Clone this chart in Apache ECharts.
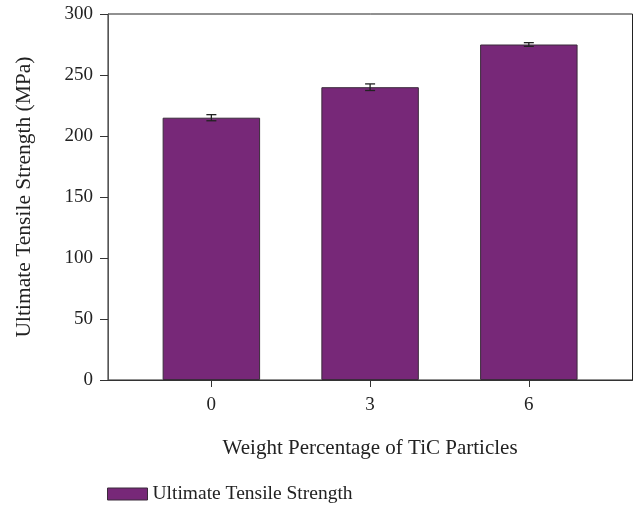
<!DOCTYPE html>
<html>
<head>
<meta charset="utf-8">
<script src="https://cdn.jsdelivr.net/npm/echarts@6/dist/echarts.min.js"></script>
<style>html,body{margin:0;padding:0;background:#fff;}#c{width:635px;height:506px;}</style>
</head>
<body>
<div id="c"></div>
<script>
const categories = ['0', '3', '6'];
const strength = [215, 240, 275];
const errors = [2.5, 2.7, 1.5];
const yTicks = [0, 50, 100, 150, 200, 250, 300];

const FONT = '"Liberation Serif", "DejaVu Serif", serif';
const chart = echarts.init(document.getElementById('c'));
const errData = categories.map((c, i) => [i, strength[i] - errors[i], strength[i] + errors[i]]);
const yMin = yTicks[0], yMax = yTicks[yTicks.length - 1];

chart.setOption({
  animation: false,
  textStyle: { fontFamily: FONT },
  grid: [
    { left: 108, right: 2.5, top: 14, bottom: 126, show: true, borderColor: '#222', borderWidth: 1, backgroundColor: 'transparent', outerBoundsMode: 'none', containLabel: false },
    { left: 132, right: 26.8, top: 14, bottom: 126, show: false, outerBoundsMode: 'none', containLabel: false }
  ],
  legend: {
    left: 102, top: 479,
    itemWidth: 40, itemHeight: 12,
    icon: 'rect',
    textStyle: { fontFamily: FONT, fontSize: 19.5, color: '#222' },
    itemStyle: { borderColor: '#3b2b3b', borderWidth: 1 },
    data: ['Ultimate Tensile Strength']
  },
  xAxis: [
    {
      gridIndex: 0,
      type: 'value', min: 0, max: 1,
      axisLine: { show: true, onZero: false, lineStyle: { color: '#333' } },
      axisTick: { show: false }, axisLabel: { show: false }, splitLine: { show: false }
    },
    {
      gridIndex: 1,
      type: 'category',
      data: categories,
      boundaryGap: true,
      name: 'Weight Percentage of TiC Particles',
      nameLocation: 'middle',
      nameGap: 58,
      nameTextStyle: { fontFamily: FONT, fontSize: 21, color: '#222' },
      axisLine: { show: false },
      axisTick: { show: true, alignWithLabel: true, length: 7, lineStyle: { color: '#333' } },
      axisLabel: { fontFamily: FONT, fontSize: 19, color: '#222', margin: 16 },
      splitLine: { show: false }
    }
  ],
  yAxis: [
    {
      gridIndex: 0,
      type: 'value',
      min: yMin, max: yMax, interval: 50,
      name: 'Ultimate Tensile Strength (MPa)',
      nameLocation: 'middle',
      nameGap: 73,
      nameTextStyle: { fontFamily: FONT, fontSize: 21.5, color: '#222' },
      axisLine: { show: true, lineStyle: { color: '#555' } },
      axisTick: { show: true, length: 8, lineStyle: { color: '#333' } },
      axisLabel: { fontFamily: FONT, fontSize: 19, color: '#222', margin: 15 },
      splitLine: { show: false }
    },
    {
      gridIndex: 1,
      type: 'value',
      min: yMin, max: yMax, interval: 50,
      show: false,
      splitLine: { show: false }
    }
  ],
  series: [
    {
      name: 'Ultimate Tensile Strength',
      type: 'bar',
      xAxisIndex: 1, yAxisIndex: 1,
      data: strength,
      barWidth: '61.4%',
      itemStyle: { color: '#772878', borderColor: '#3b2b3b', borderWidth: 1 },
      z: 2
    },
    {
      type: 'custom',
      name: 'err',
      xAxisIndex: 1, yAxisIndex: 1,
      data: errData,
      z: 5,
      renderItem: function (params, api) {
        const x = api.value(0);
        const lo = api.coord([x, api.value(1)]);
        const hi = api.coord([x, api.value(2)]);
        const hw = 5;
        const st = { stroke: '#222', lineWidth: 1.3 };
        return {
          type: 'group',
          children: [
            { type: 'line', shape: { x1: lo[0], y1: lo[1], x2: hi[0], y2: hi[1] }, style: st },
            { type: 'line', shape: { x1: lo[0] - hw, y1: lo[1], x2: lo[0] + hw, y2: lo[1] }, style: st },
            { type: 'line', shape: { x1: hi[0] - hw, y1: hi[1], x2: hi[0] + hw, y2: hi[1] }, style: st }
          ]
        };
      }
    }
  ]
});
</script>
</body>
</html>
